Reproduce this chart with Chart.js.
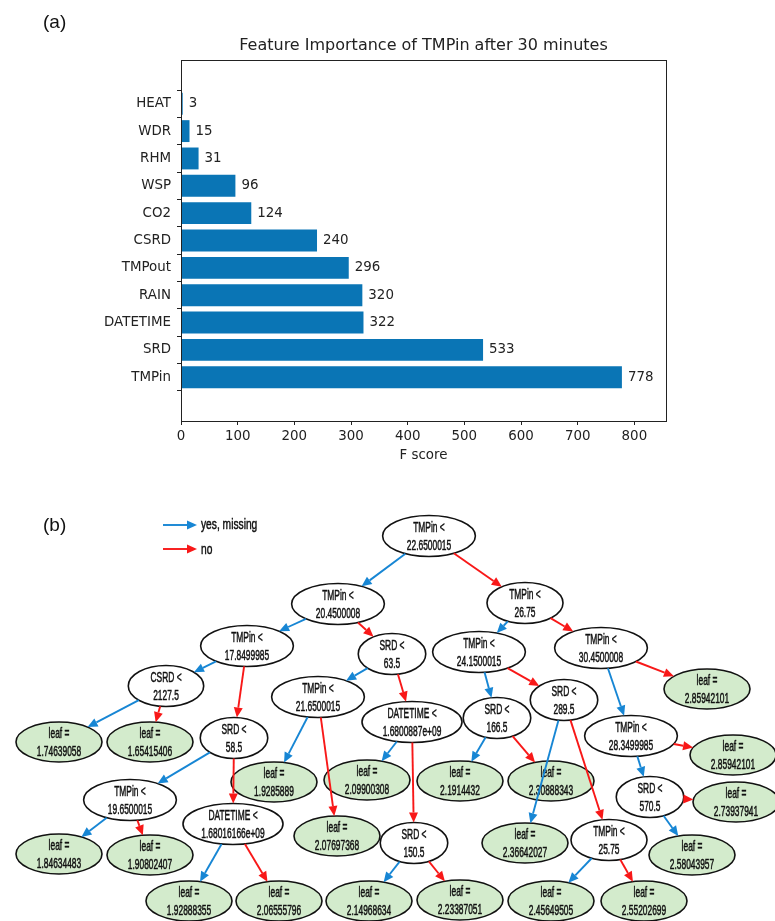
<!DOCTYPE html>
<html lang="en">

<head>
  <meta charset="UTF-8">
  <title>Feature Importance of TMPin</title>
  <script src="https://cdn.jsdelivr.net/npm/chart.js"></script>
  <style>
    body { margin: 0; background: #fff; }
    .figura { position: relative; width: 775px; height: 921px; }
    #graficoA { position: absolute; left: 0; top: 0; }
    #graficoB { position: absolute; left: 0; top: 480px; }
    .painel { position: absolute; left: 43px; font-family: "Liberation Sans", Arial, sans-serif; font-size: 19px; color: #111; }
  </style>
</head>

<body>
  <div class="figura">
    <canvas id="graficoA" width="775" height="480"></canvas>
    <canvas id="graficoB" width="775" height="441"></canvas>
    <div class="painel" style="top: 11px">(a)</div>
    <div class="painel" style="top: 514px">(b)</div>
  </div>
</body>
<script>
  // (a) importancia das variaveis, de baixo para cima
  const features = ['TMPin', 'SRD', 'DATETIME', 'RAIN', 'TMPout', 'CSRD', 'CO2', 'WSP', 'RHM', 'WDR', 'HEAT'];
  const fScores = [778, 533, 322, 320, 296, 240, 124, 96, 31, 15, 3];
  const xTicks = [0, 100, 200, 300, 400, 500, 600, 700, 800];

  // (b) arvore: rotulo de cada no e posicao no layout
  const nodeFeature = ['TMPin', 'TMPin', 'TMPin', 'TMPin', 'SRD', 'TMPin', 'TMPin', 'CSRD', 'TMPin', 'leaf',
    'DATETIME', 'SRD', 'SRD', 'TMPin', 'leaf', 'SRD', 'leaf', 'leaf', 'leaf', 'leaf',
    'leaf', 'leaf', 'SRD', 'leaf', 'TMPin', 'DATETIME', 'leaf', 'SRD', 'leaf', 'TMPin',
    'leaf', 'leaf', 'leaf', 'leaf', 'leaf', 'leaf', 'leaf', 'leaf', 'leaf'];
  const nodeValue = ['22.6500015', '20.4500008', '26.75', '17.8499985', '63.5', '24.1500015', '30.4500008', '2127.5', '21.6500015', '2.85942101',
    '1.6800887e+09', '166.5', '289.5', '28.3499985', '2.85942101', '58.5', '1.74639058', '1.65415406', '1.9285889', '2.09900308',
    '2.1914432', '2.30888343', '570.5', '2.73937941', '19.6500015', '1.68016166e+09', '2.07697368', '150.5', '2.36642027', '25.75',
    '2.58043957', '1.84634483', '1.90802407', '1.92888355', '2.06555796', '2.14968634', '2.23387051', '2.45649505', '2.55202699'];
  const nodeX = [429, 338, 525, 247, 392, 479, 601, 166, 318, 707,
    412, 497, 564, 631, 733, 234, 59, 150, 274, 367,
    460, 551, 650, 736, 130, 233, 337, 414, 525, 609,
    692, 59, 150, 189, 279, 369, 460, 551, 644];
  const nodeY = [56, 124, 123, 166, 174, 172, 168, 206, 217, 209,
    242, 238, 220, 256, 275, 258, 262, 262, 302, 300,
    301, 301, 317, 322, 320, 344, 356, 363, 363, 360,
    375, 374, 375, 421, 421, 421, 420, 421, 421];
  const edgeFrom = [0, 0, 1, 1, 2, 2, 3, 3, 4, 4, 5, 5, 6, 6, 7, 7, 15, 15, 8, 8,
    10, 10, 11, 11, 12, 12, 13, 13, 24, 24, 25, 25, 27, 27, 29, 29, 22, 22];
  const edgeTo = [1, 2, 3, 4, 5, 6, 7, 15, 8, 10, 11, 12, 13, 9, 16, 17, 24, 25, 18, 26,
    19, 27, 20, 21, 28, 29, 22, 14, 31, 32, 33, 34, 35, 36, 37, 38, 30, 23];
  const edgeKind = edgeFrom.map((_, k) => k % 2 === 0 ? 'yes' : 'no');

  const corBarra = '#0a75b5';
  const corTexto = '#222';
  const azul = '#1786d4';
  const vermelho = '#f81818';
  const corFolha = '#d3ebcc';

  // moldura completa do eixo (estilo matplotlib)
  const moldura = {
    id: 'moldura',
    afterDraw(chart) {
      const { ctx, chartArea: a } = chart;
      ctx.save();
      ctx.strokeStyle = corTexto;
      ctx.lineWidth = 1;
      ctx.strokeRect(Math.round(a.left) + 0.5, Math.round(a.top) + 0.5, Math.round(a.right - a.left), Math.round(a.bottom - a.top));
      ctx.restore();
    }
  };

  // valor escrito ao lado de cada barra
  const rotulosBarras = {
    id: 'rotulosBarras',
    afterDatasetsDraw(chart) {
      const ctx = chart.ctx;
      const meta = chart.getDatasetMeta(0);
      ctx.save();
      ctx.font = '13.4px "DejaVu Sans"';
      ctx.fillStyle = corTexto;
      ctx.textBaseline = 'middle';
      meta.data.forEach((bar, i) => ctx.fillText(String(fScores[i]), bar.x + 6, bar.y));
      ctx.restore();
    }
  };

  const fonteA = { family: '"DejaVu Sans"', size: 13.4 };

  const grafico1 = new Chart(document.getElementById('graficoA'), {
    type: 'bar',
    data: {
      datasets: [{
        data: fScores.map((v, i) => ({ x: v, y: i })),
        backgroundColor: corBarra,
        barPercentage: 0.8,
        categoryPercentage: 1
      }]
    },
    options: {
      indexAxis: 'y',
      responsive: false,
      animation: false,
      events: [],
      layout: { padding: { left: 0, right: 109, top: 0, bottom: 10 } },
      plugins: {
        legend: { display: false },
        tooltip: { enabled: false },
        title: {
          display: true,
          text: 'Feature Importance of TMPin after 30 minutes',
          fullSize: false,
          color: corTexto,
          font: { family: '"DejaVu Sans"', size: 16, weight: 'normal' },
          padding: { top: 36, bottom: 4.8 }
        }
      },
      scales: {
        x: {
          type: 'linear',
          min: 0,
          max: 778 * 1.1,
          afterBuildTicks: s => { s.ticks = xTicks.map(v => ({ value: v })); },
          afterFit: s => { s.height = 49; },
          border: { display: false },
          grid: { drawOnChartArea: false, tickLength: 4, color: corTexto },
          ticks: { color: corTexto, font: fonteA, padding: 3, maxRotation: 0 },
          title: { display: true, text: 'F score', color: corTexto, font: fonteA, padding: { top: 0, bottom: 6 } }
        },
        y: {
          type: 'linear',
          min: -1,
          max: features.length,
          afterBuildTicks: s => { s.ticks = features.map((f, i) => ({ value: i })); },
          afterFit: s => { s.width = 181; },
          border: { display: false },
          grid: { drawOnChartArea: false, tickLength: 4, color: corTexto },
          ticks: { color: corTexto, font: fonteA, padding: 6, callback: v => features[v] }
        }
      }
    },
    plugins: [moldura, rotulosBarras]
  });

  // ---- arvore ----
  const fonteNo = '14.5px "Liberation Sans"';
  const condensa = 0.58;

  function linhasNo(i) {
    if (nodeFeature[i] === 'leaf') return ['leaf =', nodeValue[i]];
    return [nodeFeature[i] + ' <', nodeValue[i]];
  }

  function raioNo(ctx, i) {
    if (nodeFeature[i] === 'leaf') return { rx: 43, ry: 20 };
    ctx.font = fonteNo;
    const w = Math.max(...linhasNo(i).map(t => ctx.measureText(t).width)) * condensa;
    const largura = Math.min(100, Math.max(64, w * 1.3 + 35));
    return { rx: largura / 2, ry: 20.5 };
  }

  // texto estreito (fonte condensada na horizontal), com contorno fino para engrossar
  function textoCondensado(ctx, texto, x, y, escala) {
    ctx.save();
    ctx.translate(x, y);
    ctx.scale(escala, 1);
    ctx.fillText(texto, 0, 0);
    ctx.lineWidth = 0.5;
    ctx.strokeStyle = ctx.fillStyle;
    ctx.strokeText(texto, 0, 0);
    ctx.restore();
  }

  function seta(ctx, x0, y0, x1, y1, cor) {
    const len = Math.hypot(x1 - x0, y1 - y0);
    const ux = (x1 - x0) / len, uy = (y1 - y0) / len;
    const bx = x1 - ux * 10, by = y1 - uy * 10;
    ctx.strokeStyle = cor;
    ctx.fillStyle = cor;
    ctx.lineWidth = 1.9;
    ctx.beginPath();
    ctx.moveTo(x0, y0);
    ctx.lineTo(bx, by);
    ctx.stroke();
    ctx.beginPath();
    ctx.moveTo(x1, y1);
    ctx.lineTo(bx - uy * 4.5, by + ux * 4.5);
    ctx.lineTo(bx + uy * 4.5, by - ux * 4.5);
    ctx.closePath();
    ctx.fill();
  }

  const desenhoArvore = {
    id: 'desenhoArvore',
    afterDatasetsDraw(chart) {
      const ctx = chart.ctx;
      const sx = chart.scales.x, sy = chart.scales.y;
      const pos = nodeX.map((x, i) => ({ x: sx.getPixelForValue(x), y: sy.getPixelForValue(nodeY[i]) }));
      const raios = nodeX.map((_, i) => raioNo(ctx, i));
      ctx.save();

      // nos
      for (let i = 0; i < pos.length; i++) {
        const p = pos[i], r = raios[i];
        ctx.beginPath();
        ctx.ellipse(p.x, p.y, r.rx, r.ry, 0, 0, Math.PI * 2);
        ctx.fillStyle = nodeFeature[i] === 'leaf' ? corFolha : '#fff';
        ctx.fill();
        ctx.lineWidth = 1.6;
        ctx.strokeStyle = '#111';
        ctx.stroke();
        const linhas = linhasNo(i);
        ctx.font = fonteNo;
        ctx.fillStyle = '#111';
        ctx.textAlign = 'center';
        ctx.textBaseline = 'middle';
        textoCondensado(ctx, linhas[0], p.x, p.y - 8.5, condensa);
        textoCondensado(ctx, linhas[1], p.x, p.y + 9.5, condensa);
      }

      // arestas entre os nos
      for (let k = 0; k < edgeFrom.length; k++) {
        const a = pos[edgeFrom[k]], b = pos[edgeTo[k]];
        const ra = raios[edgeFrom[k]], rb = raios[edgeTo[k]];
        const len = Math.hypot(b.x - a.x, b.y - a.y);
        const ux = (b.x - a.x) / len, uy = (b.y - a.y) / len;
        const ta = 1 / Math.sqrt((ux / ra.rx) ** 2 + (uy / ra.ry) ** 2);
        const tb = 1 / Math.sqrt((ux / rb.rx) ** 2 + (uy / rb.ry) ** 2);
        seta(ctx, a.x + ux * ta, a.y + uy * ta, b.x - ux * tb, b.y - uy * tb, edgeKind[k] === 'yes' ? azul : vermelho);
      }

      // legenda
      const L = chart.chartArea.left, T = chart.chartArea.top;
      seta(ctx, L + 163, T + 45, L + 197, T + 45, azul);
      seta(ctx, L + 163, T + 69, L + 197, T + 69, vermelho);
      ctx.font = '15.5px "Liberation Sans"';
      ctx.fillStyle = '#111';
      ctx.textAlign = 'left';
      ctx.textBaseline = 'middle';
      textoCondensado(ctx, 'yes, missing', L + 201, T + 45, 0.66);
      textoCondensado(ctx, 'no', L + 201, T + 70, 0.66);
      ctx.restore();
    }
  };

  const grafico2 = new Chart(document.getElementById('graficoB'), {
    type: 'scatter',
    data: {
      datasets: [{
        data: nodeX.map((x, i) => ({ x: x, y: nodeY[i] })),
        pointRadius: 0
      }]
    },
    options: {
      responsive: false,
      animation: false,
      events: [],
      layout: { padding: 0 },
      plugins: { legend: { display: false }, tooltip: { enabled: false } },
      scales: {
        x: { display: false, min: 0, max: 775 },
        y: { display: false, min: 0, max: 441, reverse: true }
      }
    },
    plugins: [desenhoArvore]
  });
</script>

</html>
